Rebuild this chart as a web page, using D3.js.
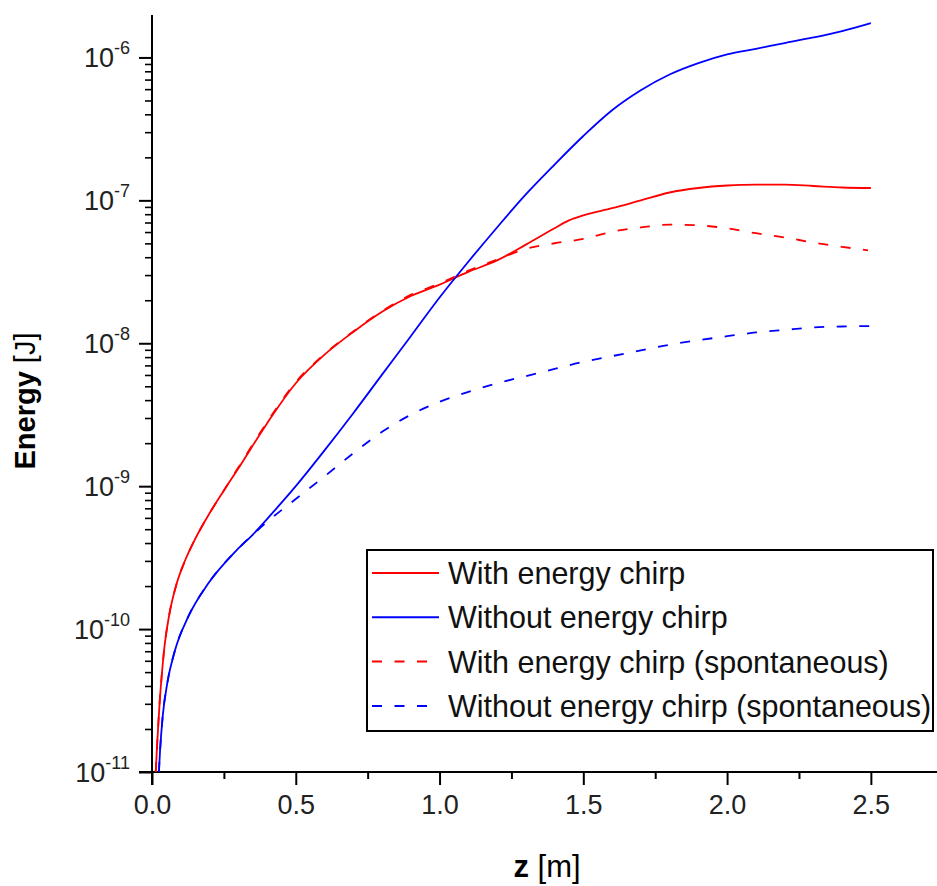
<!DOCTYPE html>
<html>
<head>
<meta charset="utf-8">
<script src="https://cdn.jsdelivr.net/npm/d3@7"></script>
<style>
  body { margin: 0; background: #fff; }
  svg { display: block; font-family: "Liberation Sans", Arial, sans-serif; }
</style>
</head>
<body>
<div class="canvas"></div>
<script>
const width = 937;
const height = 886;

// z [m] sample positions and energies [J]
const zRed = [0.013, 0.018, 0.027, 0.034, 0.043, 0.060, 0.086, 0.115, 0.15, 0.2, 0.25, 0.3, 0.4, 0.5, 0.6, 0.7, 0.8, 0.9, 1.0, 1.1, 1.2, 1.3, 1.4, 1.45, 1.5, 1.6, 1.7, 1.8, 1.9, 2.0, 2.1, 2.2, 2.3, 2.4, 2.5];
const withChirp = [1.0e-11, 1.58e-11, 3.16e-11, 4.79e-11, 7.41e-11, 1.26e-10, 2.09e-10, 3.02e-10, 4.27e-10, 6.46e-10, 9.33e-10, 1.33e-9, 2.75e-9, 5.25e-9, 8.32e-9, 1.20e-8, 1.66e-8, 2.14e-8, 2.57e-8, 3.16e-8, 3.80e-8, 4.90e-8, 6.38e-8, 7.24e-8, 7.85e-8, 8.81e-8, 1.00e-7, 1.135e-7, 1.22e-7, 1.27e-7, 1.29e-7, 1.29e-7, 1.26e-7, 1.23e-7, 1.22e-7];

const zRedSp = [0.013, 0.018, 0.027, 0.034, 0.043, 0.060, 0.086, 0.115, 0.15, 0.2, 0.25, 0.3, 0.4, 0.5, 0.6, 0.7, 0.8, 0.9, 1.0, 1.1, 1.2, 1.3, 1.4, 1.5, 1.6, 1.7, 1.8, 1.9, 2.0, 2.1, 2.2, 2.3, 2.4, 2.49];
const withChirpSp = [1.0e-11, 1.58e-11, 3.16e-11, 4.79e-11, 7.41e-11, 1.26e-10, 2.09e-10, 3.02e-10, 4.27e-10, 6.46e-10, 9.33e-10, 1.35e-9, 2.80e-9, 5.35e-9, 8.40e-9, 1.21e-8, 1.68e-8, 2.18e-8, 2.62e-8, 3.22e-8, 3.85e-8, 4.57e-8, 5.01e-8, 5.37e-8, 6.03e-8, 6.46e-8, 6.76e-8, 6.68e-8, 6.38e-8, 5.89e-8, 5.50e-8, 5.07e-8, 4.73e-8, 4.47e-8];

const zBlue = [0.024, 0.028, 0.037, 0.053, 0.08, 0.126, 0.196, 0.294, 0.35, 0.4, 0.5, 0.6, 0.7, 0.8, 0.9, 1.0, 1.1, 1.2, 1.3, 1.4, 1.5, 1.6, 1.7, 1.8, 1.9, 2.0, 2.1, 2.2, 2.3, 2.4, 2.5];
const withoutChirp = [1.0e-11, 1.41e-11, 2.43e-11, 4.17e-11, 7.11e-11, 1.22e-10, 2.09e-10, 3.56e-10, 4.57e-10, 5.89e-10, 1.00e-9, 1.78e-9, 3.24e-9, 6.03e-9, 1.12e-8, 2.09e-8, 3.72e-8, 6.46e-8, 1.10e-7, 1.78e-7, 2.82e-7, 4.27e-7, 5.89e-7, 7.59e-7, 9.12e-7, 1.05e-6, 1.15e-6, 1.26e-6, 1.38e-6, 1.53e-6, 1.74e-6];
const withoutChirpSp = [1.0e-11, 1.41e-11, 2.43e-11, 4.17e-11, 7.11e-11, 1.22e-10, 2.09e-10, 3.56e-10, 4.57e-10, 5.62e-10, 8.13e-10, 1.17e-9, 1.70e-9, 2.40e-9, 3.16e-9, 3.89e-9, 4.57e-9, 5.25e-9, 5.89e-9, 6.61e-9, 7.41e-9, 8.13e-9, 8.91e-9, 9.77e-9, 1.05e-8, 1.12e-8, 1.19e-8, 1.24e-8, 1.29e-8, 1.31e-8, 1.32e-8];

const legendLabels = ["With energy chirp", "Without energy chirp", "With energy chirp (spontaneous)", "Without energy chirp (spontaneous)"];
const xTicks = [0, 0.5, 1.0, 1.5, 2.0, 2.5];
const xMinorTicks = [0.25, 0.75, 1.25, 1.75, 2.25];
const yExponents = [-11, -10, -9, -8, -7, -6];

const series = [
  {name: legendLabels[0], z: zRed, e: withChirp, color: "#ff0000", dash: null},
  {name: legendLabels[1], z: zBlue, e: withoutChirp, color: "#0000ff", dash: null},
  {name: legendLabels[2], z: zRedSp, e: withChirpSp, color: "#ff0000", dash: "10,12.5"},
  {name: legendLabels[3], z: zBlue, e: withoutChirpSp, color: "#0000ff", dash: "10,12.5"}
];

const x = d3.scaleLinear().domain([0, 2.73]).range([152, 937]);
const y = d3.scaleLog().domain([1e-11, Math.pow(10, -5.703)]).range([772, 15]);

const svg = d3.select(".canvas")
    .append("svg")
    .attr("width", width)
    .attr("height", height);

// x axis
const xAxis = svg.append("g")
    .attr("transform", `translate(0, ${y(1e-11)})`)
    .call(d3.axisBottom(x).tickValues(xTicks).tickFormat(d3.format(".1f")).tickSize(13).tickPadding(10));
xAxis.select(".domain").remove();
xAxis.selectAll("line").attr("stroke", "#000").attr("stroke-width", 2);
xAxis.selectAll("text").attr("font-size", 27).attr("fill", "#222");

const xMinor = svg.append("g")
    .attr("transform", `translate(0, ${y(1e-11)})`)
    .call(d3.axisBottom(x).tickValues(xMinorTicks).tickFormat("").tickSize(7));
xMinor.select(".domain").remove();
xMinor.selectAll("line").attr("stroke", "#000").attr("stroke-width", 2);

// y axis
const yMajor = yExponents.map(p => Math.pow(10, p));
const yMinorVals = [];
yExponents.forEach(p => {
  for (let k = 2; k <= 9; k++) {
    const v = k * Math.pow(10, p);
    if (v < y.domain()[1]) yMinorVals.push(v);
  }
});

const yAxis = svg.append("g")
    .attr("transform", `translate(${x(0)}, 0)`)
    .call(d3.axisLeft(y).tickValues(yMajor).tickFormat("").tickSize(13));
yAxis.select(".domain").remove();
yAxis.selectAll("line").attr("stroke", "#000").attr("stroke-width", 2);

const yMinorAxis = svg.append("g")
    .attr("transform", `translate(${x(0)}, 0)`)
    .call(d3.axisLeft(y).tickValues(yMinorVals).tickFormat("").tickSize(7));
yMinorAxis.select(".domain").remove();
yMinorAxis.selectAll("line").attr("stroke", "#000").attr("stroke-width", 1.6);

const yLabels = svg.append("g").selectAll("text")
    .data(yExponents)
    .enter()
    .append("text")
    .attr("x", x(0) - 22)
    .attr("y", d => y(Math.pow(10, d)) + 10)
    .attr("text-anchor", "end")
    .attr("fill", "#222")
    .attr("font-size", 27);
yLabels.append("tspan").text("10");
yLabels.append("tspan")
    .attr("font-size", 18)
    .attr("dy", -13)
    .text(d => "-" + Math.abs(d));

// axis lines
svg.append("line")
    .attr("x1", x(0) - 13).attr("x2", x(2.73))
    .attr("y1", y(1e-11)).attr("y2", y(1e-11))
    .attr("stroke", "#000").attr("stroke-width", 2);
svg.append("line")
    .attr("x1", x(0)).attr("x2", x(0))
    .attr("y1", y.range()[1]).attr("y2", y(1e-11) + 13)
    .attr("stroke", "#000").attr("stroke-width", 2);

// curves
const line = d3.line()
    .x(d => x(d[0]))
    .y(d => y(d[1]))
    .curve(d3.curveMonotoneX);

svg.append("g").selectAll("path")
    .data(series)
    .enter()
    .append("path")
    .attr("d", s => line(s.z.map((z, i) => [z, s.e[i]])))
    .attr("fill", "none")
    .attr("stroke", s => s.color)
    .attr("stroke-width", 1.8)
    .attr("stroke-dasharray", s => s.dash);

// axis titles
const yTitle = svg.append("text")
    .attr("transform", "translate(35, 401) rotate(-90)")
    .attr("text-anchor", "middle")
    .attr("font-size", 29)
    .attr("fill", "#000");
yTitle.append("tspan").attr("font-weight", "bold").text("Energy ");
yTitle.append("tspan").text("[J]");

const xTitle = svg.append("text")
    .attr("x", 547)
    .attr("y", 877)
    .attr("text-anchor", "middle")
    .attr("font-size", 31)
    .attr("fill", "#000");
xTitle.append("tspan").attr("font-weight", "bold").text("z ");
xTitle.append("tspan").text("[m]");

// legend
const legend = svg.append("g");
legend.append("rect")
    .attr("x", 367).attr("y", 550)
    .attr("width", 566).attr("height", 181)
    .attr("fill", "#fff")
    .attr("stroke", "#000")
    .attr("stroke-width", 2);

const rows = legend.selectAll("g.row")
    .data(series)
    .enter()
    .append("g")
    .attr("class", "row")
    .attr("transform", (d, i) => `translate(0, ${573 + i * 44.3})`);
rows.append("line")
    .attr("x1", 372).attr("x2", 439)
    .attr("stroke", d => d.color)
    .attr("stroke-width", 2)
    .attr("stroke-dasharray", d => d.dash);
rows.append("text")
    .attr("x", 448)
    .attr("y", 11)
    .attr("font-size", 30.5)
    .attr("fill", "#111")
    .text(d => d.name);
</script>
</body>
</html>
